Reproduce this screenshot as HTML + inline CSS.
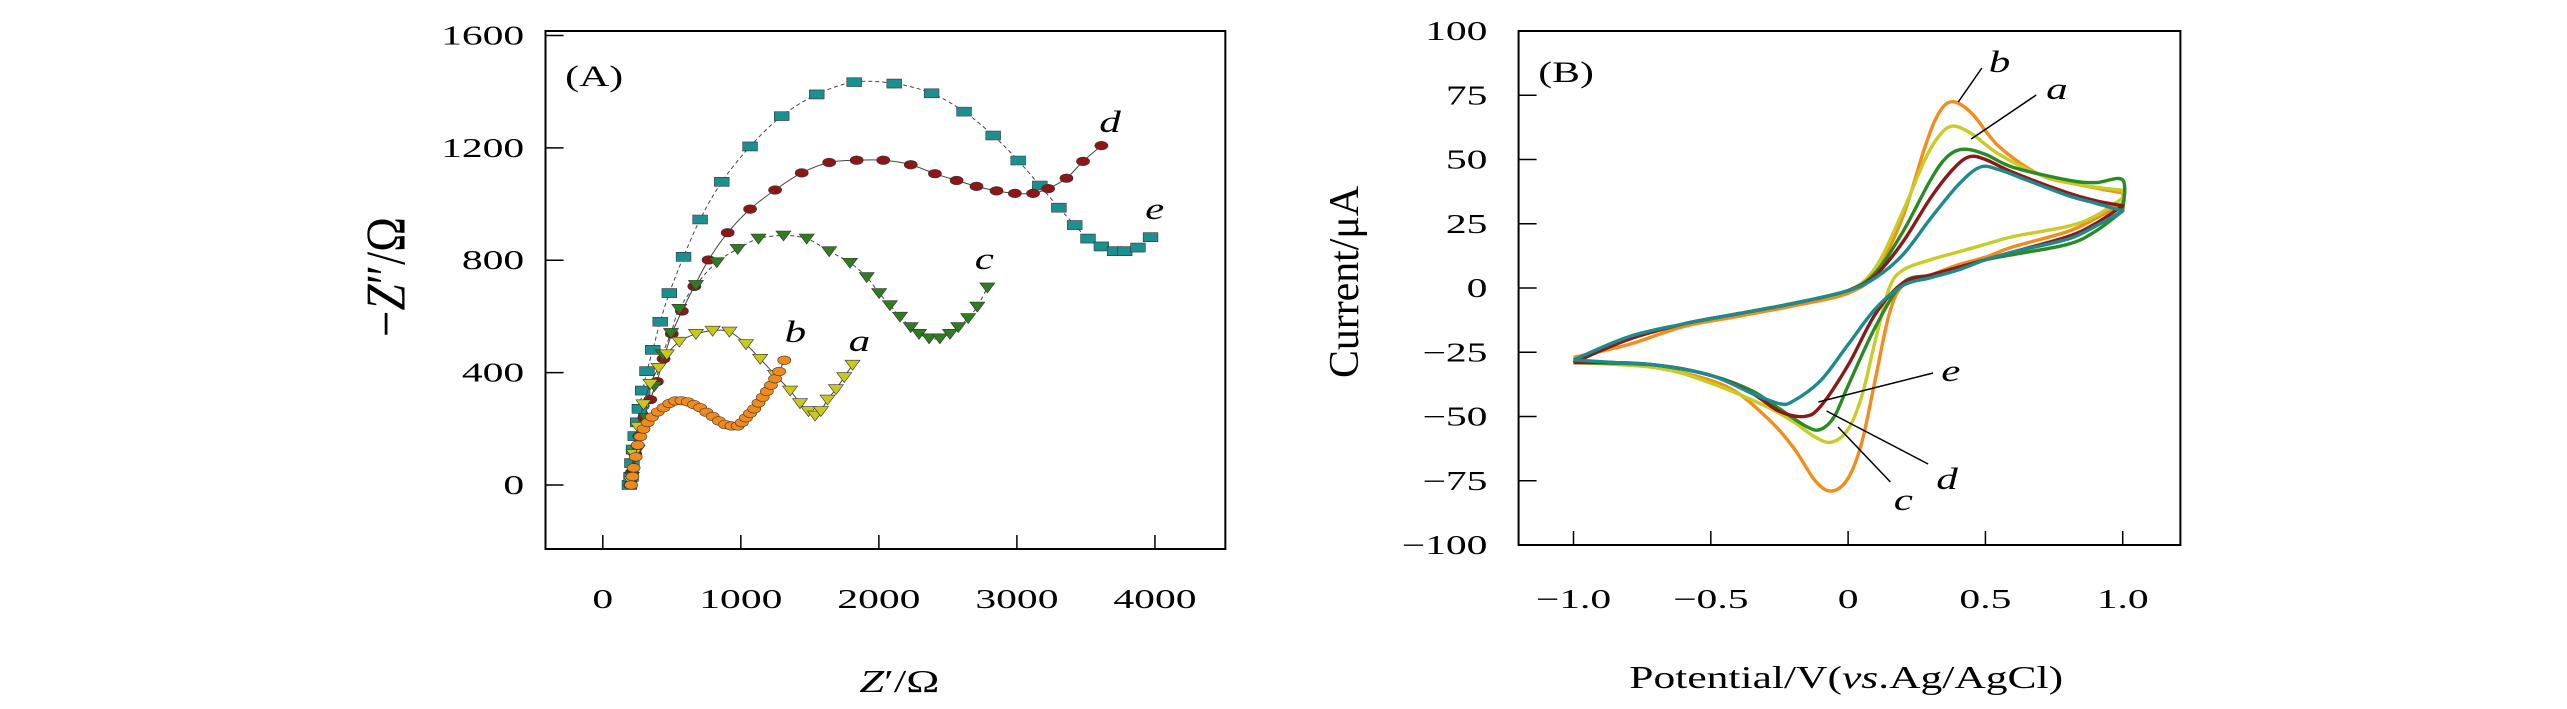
<!DOCTYPE html>
<html><head><meta charset="utf-8"><style>
html,body{margin:0;padding:0;background:#fff;overflow:hidden}
svg{display:block}
text{font-family:"Liberation Serif",serif;fill:#000}
</style></head><body>
<svg id="fig" width="2567" height="709" viewBox="0 0 1567 709" preserveAspectRatio="none" xmlns="http://www.w3.org/2000/svg">
<g id="pa"></g>
<g id="pb"></g>
</svg>
<script>
// ===== Panel A data (Z' , -Z'') =====
const eX=[193,205,211,223,235,253,265,289,320,362,416,482,585,705,862,1067,1296,1550,1821,2111,2382,2617,2828,3009,3166,3304,3419,3515,3612,3708,3781,3877,3968];
const eY=[0,29,78,126,174,223,271,336,405,481,581,683,812,945,1079,1205,1313,1390,1434,1429,1394,1329,1244,1155,1066,987,925,877,849,832,832,845,882];
const dX=[199,211,235,265,301,344,392,440,500,573,663,766,905,1067,1248,1441,1640,1839,2032,2231,2406,2563,2707,2852,2985,3117,3226,3359,3479,3612];
const dY=[0,45,110,174,239,304,368,449,538,619,707,801,898,982,1050,1111,1148,1156,1156,1140,1108,1084,1063,1047,1038,1038,1055,1092,1152,1208];
const cX=[211,253,313,374,434,494,554,675,826,977,1128,1309,1477,1640,1791,1912,2002,2080,2153,2231,2291,2364,2442,2515,2575,2647,2713,2786];
const cY=[29,126,239,352,465,541,627,712,793,840,877,888,877,832,791,740,683,640,599,562,538,522,522,538,562,594,635,703];
const aX=[205,223,253,295,344,404,464,554,675,796,917,1037,1140,1248,1357,1429,1490,1538,1580,1628,1689,1749,1809];
const aY=[13,110,207,287,360,417,465,510,538,549,546,501,449,392,336,291,263,247,263,304,341,384,428];
const bX=[205,215,223,238,253,272,295,325,356,398,440,482,525,570,615,660,705,750,796,841,886,932,977,1007,1037,1067,1097,1128,1158,1188,1218,1248,1278,1315];
const bY=[0,30,61,100,142,172,199,222,242,260,275,290,299,300,296,286,275,259,244,228,215,210,210,222,239,255,271,292,312,333,355,378,404,444];
const aTicksX=[0,1000,2000,3000,4000];
const aTicksY=[0,400,800,1200,1600];

// ===== Panel B data (E vs I) =====
const cvE_up_b=[-1,-0.8,-0.6,-0.4,-0.2,0,0.1,0.2,0.28,0.33,0.38,0.45,0.55,0.7,0.85,1];
const cvI_up_b=[-27,-22,-15,-11,-7,-2,6,28,55,68,72.5,68,55,44,40,37];
const cvE_dn_b=[1,0.9,0.8,0.6,0.5,0.4,0.3,0.2,0.15,0.1,0.05,0,-0.06,-0.12,-0.2,-0.3,-0.45,-0.7,-1];
const cvI_dn_b=[33,27,22,16,12,9,5,1,-10,-35,-60,-74,-79,-75,-62,-50,-38,-31,-28];
const cvE_up_a=[-1,-0.8,-0.6,-0.4,-0.2,0,0.1,0.2,0.28,0.33,0.38,0.45,0.55,0.7,0.85,1];
const cvI_up_a=[-28,-20,-14,-10,-6,-1,8,30,50,59,63,60,52,44,40,38];
const cvE_dn_a=[1,0.9,0.8,0.6,0.5,0.4,0.3,0.2,0.15,0.1,0.05,0,-0.06,-0.12,-0.2,-0.3,-0.5,-0.7,-1];
const cvI_dn_a=[35,28,24,20,17,14,11,7,0,-20,-42,-55,-60,-58,-52,-46,-37,-31,-29];
const cvE_up_c=[-1,-0.8,-0.6,-0.4,-0.2,0,0.1,0.2,0.3,0.36,0.42,0.5,0.6,0.8,0.9,1,1];
const cvI_up_c=[-29,-20,-14,-10,-6,-1,6,22,42,51,54,52,47,42,41,42,30];
const cvE_dn_c=[1,0.9,0.8,0.6,0.5,0.4,0.3,0.2,0.1,0,-0.05,-0.1,-0.15,-0.25,-0.35,-0.5,-0.7,-1];
const cvI_dn_c=[30,22,17,13,11,8,5,2,-15,-38,-50,-55,-54,-47,-40,-34,-30,-29];
const cvE_up_d=[-1,-0.8,-0.6,-0.4,-0.2,0,0.1,0.2,0.3,0.38,0.44,0.5,0.6,0.8,0.9,1];
const cvI_up_d=[-29,-20,-14,-10,-6,-1,5,18,35,46,51,50,45,37,34,32];
const cvE_dn_d=[1,0.9,0.8,0.6,0.5,0.4,0.3,0.2,0.1,0,-0.1,-0.16,-0.25,-0.35,-0.5,-0.7,-0.85,-1];
const cvI_dn_d=[32,25,20,14,11,8,5,2,-10,-30,-46,-50,-48,-41,-34,-30,-29,-29];
const cvE_up_e=[-1,-0.8,-0.6,-0.4,-0.2,0,0.1,0.2,0.3,0.4,0.48,0.55,0.65,0.8,0.9,1];
const cvI_up_e=[-28,-19,-14,-10,-6,-1,4,13,27,40,47,46,42,36,33,30];
const cvE_dn_e=[1,0.9,0.8,0.6,0.5,0.4,0.3,0.2,0.1,0,-0.1,-0.2,-0.25,-0.35,-0.5,-0.7,-0.85,-1];
const cvI_dn_e=[30,24,19,14,11,7,4,1,-8,-22,-36,-44,-45,-41,-34,-30,-29,-28];
const bTicksX=[-1.0,-0.5,0,0.5,1.0];
const bTickLabelsX=["\u22121.0","\u22120.5","0","0.5","1.0"];
const bTicksY=[100,75,50,25,0,-25,-50,-75,-100];

const NS="http://www.w3.org/2000/svg";
function mk(parent,tag,attrs,txt){const el=document.createElementNS(NS,tag);for(const k in attrs)el.setAttribute(k,attrs[k]);if(txt!==undefined)el.textContent=txt;parent.appendChild(el);return el;}
function txt(parent,x,y,size,sx,anchor,content,rot,html,italic){
 const el=document.createElementNS(NS,'text');
 el.setAttribute('x',0);el.setAttribute('y',0);
 el.setAttribute('font-size',size);
 el.setAttribute('text-anchor',anchor);
 if(italic)el.setAttribute('font-style','italic');
 el.setAttribute('transform','translate('+x+','+y+')'+(rot?' rotate('+rot+')':'')+' scale('+sx+',1)');
 if(html)el.innerHTML=content;else el.textContent=content;
 parent.appendChild(el);return el;
}
function fmt(v){return v<0?"\u2212"+Math.abs(v):String(v);}
function smooth(pts){let d="M"+pts[0][0]+","+pts[0][1];for(let i=0;i<pts.length-1;i++){const p0=pts[i-1]||pts[i],p1=pts[i],p2=pts[i+1],p3=pts[i+2]||p2;const c1=[p1[0]+(p2[0]-p0[0])/6,p1[1]+(p2[1]-p0[1])/6],c2=[p2[0]-(p3[0]-p1[0])/6,p2[1]-(p3[1]-p1[1])/6];d+=" C"+c1[0]+","+c1[1]+" "+c2[0]+","+c2[1]+" "+p2[0]+","+p2[1];}return d;}

const TK=27, TKS=0.94;

// ===== Panel A =====
const A={l:333,r:748,t:31,b:549,x0:-415,x1:4510,y0:-228,y1:1616};
const ax=v=>A.l+(v-A.x0)/(A.x1-A.x0)*(A.r-A.l);
const ay=v=>A.b-(v-A.y0)/(A.y1-A.y0)*(A.b-A.t);
const pa=document.getElementById('pa');
let el;
el=mk(pa,'rect',{x:A.l,y:A.t,width:A.r-A.l,height:A.b-A.t,fill:'none',stroke:'#000','stroke-width':2,'vector-effect':'non-scaling-stroke'});


aTicksX.forEach(v=>{
 el=mk(pa,'line',{x1:ax(v),x2:ax(v),y1:A.b,y2:A.b-14,stroke:'#000','stroke-width':1.5,'vector-effect':'non-scaling-stroke'});
 
 
 el=txt(pa,ax(v),608,TK,TKS,'middle',String(v));
 
 
});
aTicksY.forEach(v=>{
 el=mk(pa,'line',{x1:A.l,x2:A.l+11,y1:ay(v),y2:ay(v),stroke:'#000','stroke-width':1.5,'vector-effect':'non-scaling-stroke'});
 
 
 el=txt(pa,320,ay(v)+9,TK,TKS,'end',String(v));
 
 
});
el=txt(pa,549,692,32,0.85,'middle','<tspan font-style="italic">Z</tspan>\u2032/\u03A9',0,true);


el=txt(pa,247,277,34,1.38,'middle','\u2212<tspan font-style="italic">Z</tspan>\u2033/\u03A9',-90,true);


el=txt(pa,345,86,30,0.85,'start','(A)');



const seriesA=[
 {n:'e',X:eX,Y:eY,fill:'#1c9090',shape:'sq',dash:'4,3'},
 {n:'d',X:dX,Y:dY,fill:'#8e1616',shape:'ci',dash:''},
 {n:'c',X:cX,Y:cY,fill:'#2f7d1e',shape:'tri',dash:'4,3'},
 {n:'a',X:aX,Y:aY,fill:'#c9c81c',shape:'tri',dash:''},
 {n:'b',X:bX,Y:bY,fill:'#f08a1e',shape:'ci',dash:''}
];
seriesA.forEach(s=>{
 const g=mk(pa,'g',{});
 
 
 const pts=s.X.map((x,i)=>[ax(x),ay(s.Y[i])]);
 el=mk(g,'path',{d:smooth(pts),fill:'none',stroke:'#444','stroke-width':1,'stroke-dasharray':s.dash,'vector-effect':'non-scaling-stroke'});
 
 
 pts.forEach(p=>{
  if(s.shape==='sq') el=mk(g,'rect',{x:p[0]-4.5,y:p[1]-4.5,width:9,height:9,fill:s.fill,stroke:'#333','stroke-width':0.6,'vector-effect':'non-scaling-stroke'});
  else if(s.shape==='ci') el=mk(g,'ellipse',{cx:p[0],cy:p[1],rx:4,ry:4.3,fill:s.fill,stroke:'#333','stroke-width':0.6,'vector-effect':'non-scaling-stroke'});
  else el=mk(g,'polygon',{points:(p[0]-4.6)+','+(p[1]-4.5)+' '+(p[0]+4.6)+','+(p[1]-4.5)+' '+p[0]+','+(p[1]+5.5),fill:s.fill,stroke:'#333','stroke-width':0.6,'vector-effect':'non-scaling-stroke'});
  
  
 });
});
[['d',671,132],['e',699,219],['c',595,269],['b',479,342],['a',518,351]].forEach(t=>{
 el=txt(pa,t[1],t[2],31,0.85,'start',t[0],0,false,true);
 
 
});

// ===== Panel B =====
const B={l:927,r:1331,t:31,b:545,x0:-1.2,x1:1.21,y0:-100,y1:100};
const bx=v=>B.l+(v-B.x0)/(B.x1-B.x0)*(B.r-B.l);
const by=v=>B.b-(v-B.y0)/(B.y1-B.y0)*(B.b-B.t);
const pb=document.getElementById('pb');
el=mk(pb,'rect',{x:B.l,y:B.t,width:B.r-B.l,height:B.b-B.t,fill:'none',stroke:'#000','stroke-width':2,'vector-effect':'non-scaling-stroke'});


bTicksX.forEach((v,i)=>{
 el=mk(pb,'line',{x1:bx(v),x2:bx(v),y1:B.b,y2:B.b-14,stroke:'#000','stroke-width':1.5,'vector-effect':'non-scaling-stroke'});
 
 
 el=txt(pb,bx(v),608,TK,TKS,'middle',bTickLabelsX[i]);
 
 
});
bTicksY.forEach(v=>{
 el=mk(pb,'line',{x1:B.l,x2:B.l+11,y1:by(v),y2:by(v),stroke:'#000','stroke-width':1.5,'vector-effect':'non-scaling-stroke'});
 
 
 el=txt(pb,908,by(v)+9,TK,TKS,'end',fmt(v));
 
 
});
el=txt(pb,1127,688,32,0.83,'middle','Potential/V(<tspan font-style="italic">vs</tspan>.Ag/AgCl)',0,true);


el=txt(pb,829,282,26,1.61,'middle','Current/\u03BCA',-90);


el=txt(pb,939,82,30,0.85,'start','(B)');



const seriesB=[
 {n:'b',Eu:cvE_up_b,Iu:cvI_up_b,Ed:cvE_dn_b,Id:cvI_dn_b,c:'#f28c1c'},
 {n:'a',Eu:cvE_up_a,Iu:cvI_up_a,Ed:cvE_dn_a,Id:cvI_dn_a,c:'#c8cc26'},
 {n:'c',Eu:cvE_up_c,Iu:cvI_up_c,Ed:cvE_dn_c,Id:cvI_dn_c,c:'#2a8a24'},
 {n:'d',Eu:cvE_up_d,Iu:cvI_up_d,Ed:cvE_dn_d,Id:cvI_dn_d,c:'#8a1a1a'},
 {n:'e',Eu:cvE_up_e,Iu:cvI_up_e,Ed:cvE_dn_e,Id:cvI_dn_e,c:'#1f8a8c'}
];
seriesB.forEach(s=>{
 const up=s.Eu.map((e,i)=>[bx(e),by(s.Iu[i])]);
 const dn=s.Ed.map((e,i)=>[bx(e),by(s.Id[i])]);
 el=mk(pb,'path',{d:smooth(up)+" "+smooth(dn).replace('M','L'),fill:'none',stroke:s.c,'stroke-width':3.4,'stroke-linejoin':'round','vector-effect':'non-scaling-stroke'});
 
 
});
[['b',1209.8,68,1195.4,102,1214,72],['a',1243,95,1203.3,139,1249,99],['e',1180,373,1110,402,1185,381],['d',1177,464,1115,411,1182,489],['c',1154,482,1122,427,1156,510]].forEach(t=>{
 el=mk(pb,'line',{x1:t[1],y1:t[2],x2:t[3],y2:t[4],stroke:'#000','stroke-width':1.5,'vector-effect':'non-scaling-stroke'});
 
 
 el=txt(pb,t[5],t[6],31,0.85,'start',t[0],0,false,true);
 
 
});
</script>
</body></html>
